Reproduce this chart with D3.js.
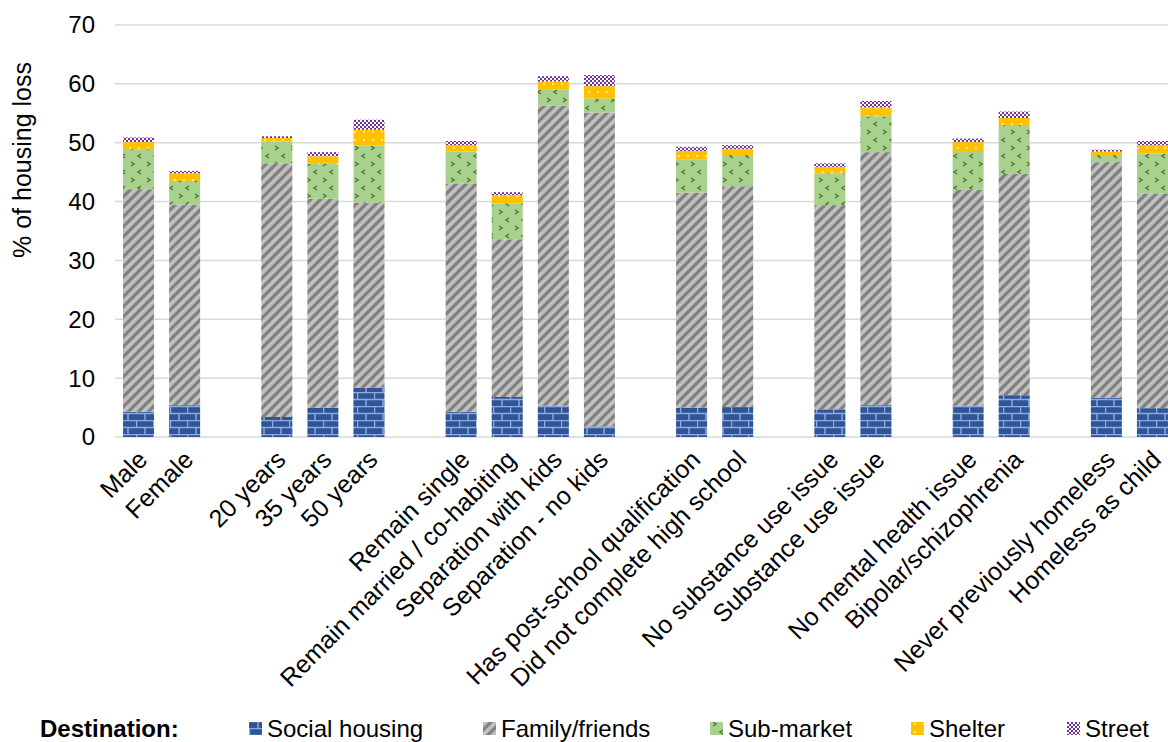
<!DOCTYPE html>
<html>
<head>
<meta charset="utf-8">
<script src="https://cdn.jsdelivr.net/npm/d3@7"></script>
<style>
	body { margin: 0; background: #fff; }
	svg { display: block; font-family: "Liberation Sans", Arial, sans-serif; }
</style>
</head>
<body>
<div id="chart"></div>
<script>

// categories, grouped; an empty slot is left between groups
var categories = ["Male", "Female", "20 years", "35 years", "50 years",
	"Remain single", "Remain married / co-habiting", "Separation with kids", "Separation - no kids",
	"Has post-school qualification", "Did not complete high school",
	"No substance use issue", "Substance use issue",
	"No mental health issue", "Bipolar/schizophrenia",
	"Never previously homeless", "Homeless as child"];
var groups = [0, 0, 1, 1, 1, 2, 2, 2, 2, 3, 3, 4, 4, 5, 5, 6, 6];

var seriesNames = ["Social housing", "Family/friends", "Sub-market", "Shelter", "Street"];

// % of housing loss by destination
var socialHousing = [4.3, 5.4, 3.4, 5.0, 8.4, 4.3, 6.8, 5.3, 1.8, 5.0, 5.1, 4.7, 5.4, 5.3, 7.1, 6.7, 4.9];
var familyFriends = [37.8, 34.1, 43.1, 35.5, 31.4, 38.8, 26.8, 51.0, 53.3, 36.5, 37.5, 34.7, 43.0, 36.7, 37.6, 40.0, 36.5];
var subMarket = [6.8, 4.0, 3.7, 5.9, 9.7, 5.4, 6.1, 2.8, 2.4, 5.7, 5.3, 5.4, 6.1, 6.6, 8.3, 1.2, 6.8];
var shelter = [1.2, 1.3, 0.6, 1.3, 2.7, 1.1, 1.4, 1.3, 2.1, 1.4, 1.0, 1.1, 1.5, 1.5, 1.2, 0.6, 1.4];
var street = [0.8, 0.4, 0.3, 0.7, 1.7, 0.7, 0.5, 0.9, 1.9, 0.7, 0.7, 0.6, 1.1, 0.6, 1.1, 0.3, 0.7];

var yTicks = [0, 10, 20, 30, 40, 50, 60, 70];

var width = 1168, height = 742;

var svg = d3.select("#chart").append("svg")
	.attr("width", width)
	.attr("height", height);

// ---- fill patterns (Excel style) ----
var defs = svg.append("defs");

var brick = defs.append("pattern").attr("id", "p-social")
	.attr("patternUnits", "userSpaceOnUse").attr("width", 17).attr("height", 14);
brick.append("rect").attr("width", 17).attr("height", 14).attr("fill", "#2F5597");
brick.append("path")
	.attr("d", "M0,0.5H17M0,7.5H17M0.5,0V7M9,7V14")
	.attr("stroke", "#8EA9DB").attr("stroke-width", 1.5);

var diag = defs.append("pattern").attr("id", "p-family")
	.attr("patternUnits", "userSpaceOnUse").attr("width", 10).attr("height", 10);
diag.append("rect").attr("width", 10).attr("height", 10).attr("fill", "#BFBFBF");
diag.append("path")
	.attr("d", "M-2,2L2,-2M0,10L10,0M8,12L12,8")
	.attr("stroke", "#808080").attr("stroke-width", 3.2);

var divot = defs.append("pattern").attr("id", "p-sub")
	.attr("patternUnits", "userSpaceOnUse").attr("width", 16).attr("height", 16);
divot.append("rect").attr("width", 16).attr("height", 16).attr("fill", "#A9D18E");
divot.append("path")
	.attr("d", "M3,2L6,4L3,6M13,10L10,12L13,14")
	.attr("stroke", "#4E7A30").attr("stroke-width", 1.5).attr("fill", "none");

var dots = defs.append("pattern").attr("id", "p-shelter")
	.attr("patternUnits", "userSpaceOnUse").attr("width", 9).attr("height", 8);
dots.append("rect").attr("width", 9).attr("height", 8).attr("fill", "#FFC000");
dots.append("rect").attr("x", 3).attr("y", 3).attr("width", 2).attr("height", 2).attr("fill", "#FFE699");

var checker = defs.append("pattern").attr("id", "p-street")
	.attr("patternUnits", "userSpaceOnUse").attr("width", 4).attr("height", 4);
checker.append("rect").attr("width", 4).attr("height", 4).attr("fill", "#7030A0");
checker.append("rect").attr("width", 2).attr("height", 2).attr("fill", "#fff");
checker.append("rect").attr("x", 2).attr("y", 2).attr("width", 2).attr("height", 2).attr("fill", "#fff");

var fills = ["url(#p-social)", "url(#p-family)", "url(#p-sub)", "url(#p-shelter)", "url(#p-street)"];

// ---- scales ----
// one slot per category plus a blank slot between groups
var slots = [];
categories.forEach(function(c, i) {
	if (i > 0 && groups[i] !== groups[i - 1]) slots.push("gap" + i);
	slots.push(c);
});

var x = d3.scaleBand()
	.domain(slots)
	.range([115.5, 1175.5])
	.paddingInner(0.327)
	.paddingOuter(0.1635);

var y = d3.scaleLinear()
	.domain([0, 70])
	.range([437, 25]);

// gridlines
svg.append("g").attr("class", "grid")
	.selectAll("line")
	.data(yTicks)
	.enter()
	.append("line")
	.attr("x1", 115).attr("x2", width)
	.attr("y1", function(d) { return y(d); })
	.attr("y2", function(d) { return y(d); })
	.attr("stroke", "#D9D9D9")
	.attr("stroke-width", 1.5);

// y tick labels
svg.append("g").selectAll("text")
	.data(yTicks)
	.enter()
	.append("text")
	.attr("x", 95)
	.attr("y", function(d) { return y(d); })
	.attr("dy", "0.35em")
	.attr("text-anchor", "end")
	.attr("font-size", 24)
	.attr("fill", "#000")
	.text(function(d) { return d; });

svg.append("text")
	.attr("transform", "translate(31,160) rotate(-90)")
	.attr("text-anchor", "middle")
	.attr("font-size", 25)
	.attr("fill", "#000")
	.text("% of housing loss");

// ---- stacked bars ----
var rows = categories.map(function(c, i) {
	return { cat: c, v: [socialHousing[i], familyFriends[i], subMarket[i], shelter[i], street[i]] };
});

var stack = d3.stack()
	.keys([0, 1, 2, 3, 4])
	.value(function(d, k) { return d.v[k]; });

var layers = svg.append("g").attr("class", "bars")
	.selectAll("g")
	.data(stack(rows))
	.enter()
	.append("g")
	.attr("fill", function(d, i) { return fills[i]; });

layers.selectAll("rect")
	.data(function(d) { return d; })
	.enter()
	.append("rect")
	.attr("x", function(d) { return x(d.data.cat); })
	.attr("width", x.bandwidth())
	.attr("y", function(d) { return y(d[1]); })
	.attr("height", function(d) { return y(d[0]) - y(d[1]); });

// x labels, rotated
svg.append("g").selectAll("text")
	.data(categories)
	.enter()
	.append("text")
	.attr("transform", function(d) {
		return "translate(" + (x(d) + x.bandwidth() / 2 + 4) + ",455) rotate(-45)";
	})
	.attr("text-anchor", "end")
	.attr("dy", "0.35em")
	.attr("font-size", 25)
	.attr("fill", "#000")
	.text(function(d) { return d; });

// ---- legend ----
var legend = svg.append("g").attr("class", "legend");

legend.append("text")
	.attr("x", 40).attr("y", 737)
	.attr("font-size", 24)
	.attr("font-weight", "bold")
	.attr("fill", "#000")
	.text("Destination:");

var legendX = [249, 483, 710, 911, 1067];

var items = legend.selectAll("g.item")
	.data(seriesNames)
	.enter()
	.append("g")
	.attr("class", "item")
	.attr("transform", function(d, i) { return "translate(" + legendX[i] + ",0)"; });

items.append("rect")
	.attr("x", 0).attr("y", 722)
	.attr("width", 13).attr("height", 13)
	.attr("fill", function(d, i) { return fills[i]; });

items.append("text")
	.attr("x", 18).attr("y", 737)
	.attr("font-size", 24)
	.attr("fill", "#000")
	.text(function(d) { return d; });

</script>
</body>
</html>
